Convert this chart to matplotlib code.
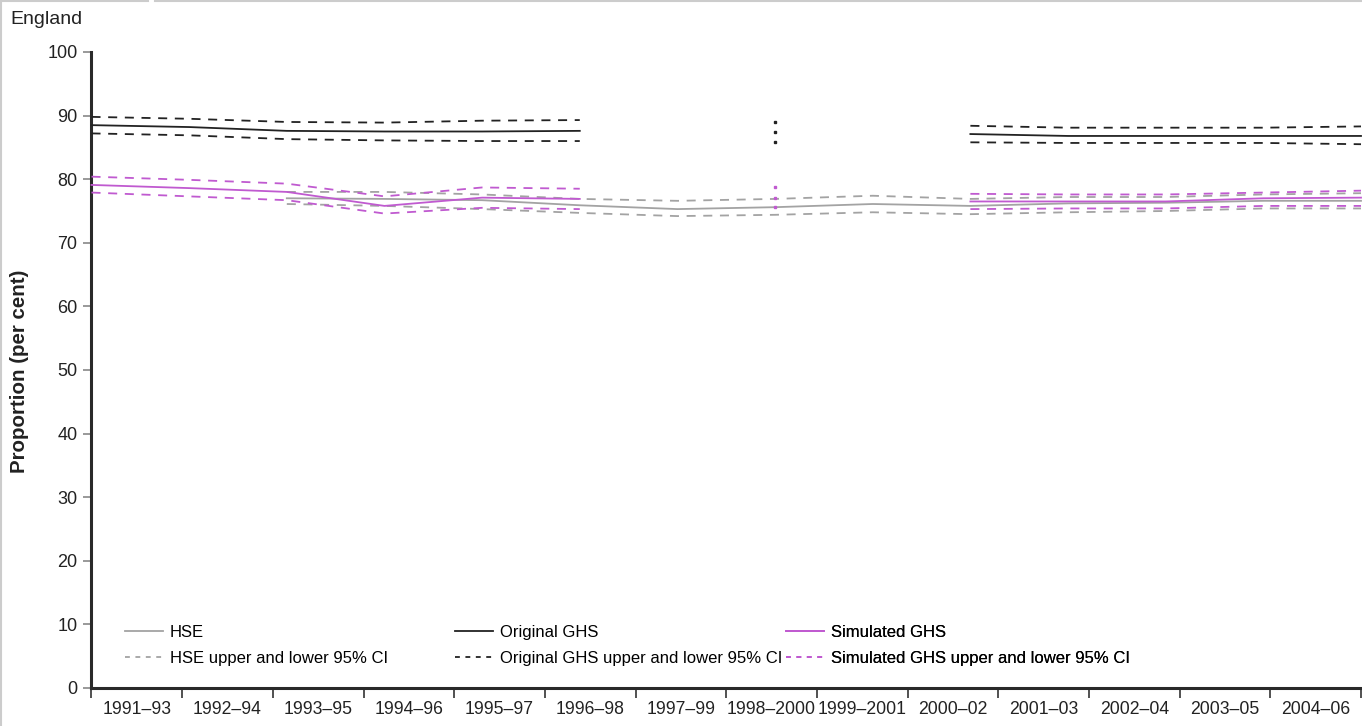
import numpy as np
import matplotlib.pyplot as plt
from matplotlib.lines import Line2D

plt.rcParams['font.family'] = ['Liberation Sans', 'DejaVu Sans']
plt.rcParams['lines.scale_dashes'] = False

nan = np.nan

periods = ['1991–93', '1992–94', '1993–95', '1994–96', '1995–97', '1996–98', '1997–99',
           '1998–2000', '1999–2001', '2000–02', '2001–03', '2002–04', '2003–05', '2004–06']

hse = [nan, nan, 77.0, 76.9, 76.7, 75.9, 75.3, 75.6, 76.1, 75.8, 76.2, 76.3, 76.6, 76.6]
hse_upper = [nan, nan, 78.0, 78.0, 77.6, 76.9, 76.6, 76.9, 77.4, 76.9, 77.2, 77.2, 77.6, 77.8]
hse_lower = [nan, nan, 76.1, 75.8, 75.3, 74.7, 74.2, 74.4, 74.8, 74.5, 74.8, 75.0, 75.4, 75.4]

ghs = [88.5, 88.2, 87.6, 87.5, 87.5, 87.6, nan, 87.4, nan, 87.1, 86.8, 86.8, 86.8, 86.8]
ghs_upper = [89.8, 89.5, 89.0, 88.9, 89.2, 89.3, nan, 89.0, nan, 88.4, 88.1, 88.1, 88.1, 88.3]
ghs_lower = [87.2, 86.9, 86.3, 86.1, 86.0, 86.0, nan, 85.8, nan, 85.8, 85.7, 85.7, 85.7, 85.5]

sim = [79.1, 78.6, 78.0, 75.8, 77.1, 76.9, nan, 77.0, nan, 76.5, 76.5, 76.5, 77.0, 77.1]
sim_upper = [80.4, 79.9, 79.3, 77.3, 78.7, 78.5, nan, 78.7, nan, 77.7, 77.6, 77.6, 77.9, 78.2]
sim_lower = [77.9, 77.3, 76.7, 74.6, 75.5, 75.3, nan, 75.6, nan, 75.3, 75.4, 75.4, 75.8, 75.8]

GREY = '#a3a3a3'
BLACK = '#222222'
PURPLE = '#c05ad0'
DASH = (0, (6.5, 5.5))

fig = plt.figure(figsize=(13.62, 7.26), dpi=100)
ax = fig.add_axes([91.5 / 1362, 38 / 726, 1269.5 / 1362, 636 / 726])

x = np.arange(len(periods))


def draw(values, color, ls, lw):
    y = np.array(values, dtype=float)
    ax.plot(x, y, color=color, linestyle=ls, linewidth=lw, clip_on=False, zorder=3)
    # points with no neighbours on either side only show as a dot
    for i in range(len(y)):
        if np.isnan(y[i]):
            continue
        left = i == 0 or np.isnan(y[i - 1])
        right = i == len(y) - 1 or np.isnan(y[i + 1])
        if left and right:
            ax.plot(x[i], y[i], marker='s', markersize=1.8, color=color,
                    linestyle='none', zorder=3)


draw(hse_upper, GREY, DASH, 1.3)
draw(hse_lower, GREY, DASH, 1.3)
draw(hse, GREY, '-', 1.3)
draw(ghs_upper, BLACK, DASH, 1.3)
draw(ghs_lower, BLACK, DASH, 1.3)
draw(ghs, BLACK, '-', 1.3)
draw(sim_upper, PURPLE, DASH, 1.3)
draw(sim_lower, PURPLE, DASH, 1.3)
draw(sim, PURPLE, '-', 1.3)

ax.set_xlim(0, len(periods) - 1)
ax.set_ylim(0, 100)

# category boundaries as ticks, period names centred between them
step = (len(periods) - 1) / len(periods)
ax.set_xticks([k * step for k in range(len(periods) + 1)])
ax.set_xticklabels([])
ax.set_xticks([(k + 0.5) * step for k in range(len(periods))], minor=True)
ax.set_xticklabels(periods, minor=True)
ax.tick_params(axis='x', which='major', direction='out', length=7, width=1.2, color='#333333')
ax.tick_params(axis='x', which='minor', length=0, pad=9, labelsize=12.7, labelcolor='#222222')

ax.set_yticks(range(0, 101, 10))
ax.tick_params(axis='y', direction='out', length=6, width=1.2, color='#888888',
               pad=4, labelsize=13, labelcolor='#222222')

for side in ['top', 'right']:
    ax.spines[side].set_visible(False)
for side in ['left', 'bottom']:
    ax.spines[side].set_color('#2a2a2a')
    ax.spines[side].set_linewidth(2.2)

fig.text(20 / 1362, 1 - 371 / 726, 'Proportion (per cent)', rotation=90,
         ha='center', va='center', fontsize=14.8, fontweight='bold', color='#222222')
fig.text(10 / 1362, 1 - 19 / 726, 'England', ha='left', va='center',
         fontsize=14, color='#222222')

# legend in three columns of two entries
LEG_DASH = (0, (3.5, 4))
groups = [
    (GREY, 'HSE', 'HSE upper and lower 95% CI', 125),
    (BLACK, 'Original GHS', 'Original GHS upper and lower 95% CI', 455),
    (PURPLE, 'Simulated GHS', 'Simulated GHS upper and lower 95% CI', 786),
]
for color, solid_label, dash_label, left in groups:
    handles = [Line2D([], [], color=color, linewidth=1.3),
               Line2D([], [], color=color, linewidth=1.3, linestyle=LEG_DASH)]
    leg = ax.legend(handles, [solid_label, dash_label], loc='upper left',
                    bbox_to_anchor=(left / 1362, 1 - 625 / 726),
                    bbox_transform=fig.transFigure, frameon=False, fontsize=12,
                    handlelength=2.3, handletextpad=0.4, labelspacing=0.65,
                    borderpad=0, borderaxespad=0)
    ax.add_artist(leg)

# light frame lines along the top and left edges
fig.add_artist(Line2D([0, 148 / 1362], [0.999, 0.999], color='#cccccc', linewidth=1.5))
fig.add_artist(Line2D([155 / 1362, 1], [0.999, 0.999], color='#cccccc', linewidth=1.5))
fig.add_artist(Line2D([0.001, 0.001], [0, 1], color='#cccccc', linewidth=1.5))

fig.savefig('out.png', dpi=100)
